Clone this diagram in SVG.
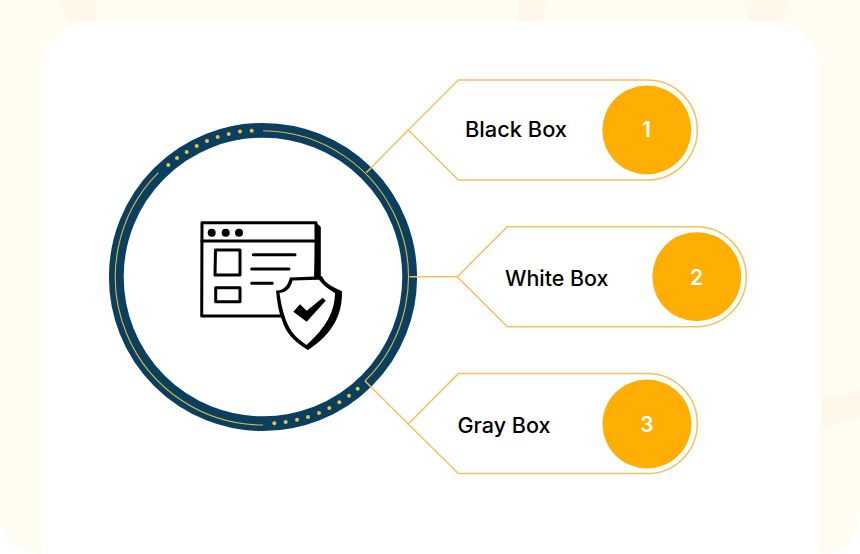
<svg xmlns="http://www.w3.org/2000/svg" width="860" height="554" viewBox="0 0 860 554">
<style>
.bd{fill:#fff;stroke:#f6c15c;stroke-width:1.5}
.num{fill:#ffae04}
.t{font-family:"Inter","Liberation Sans",sans-serif;font-weight:500;font-size:21px;fill:#000}
.n{font-family:"Inter","Liberation Sans",sans-serif;font-weight:600;font-size:21px;fill:#fff;text-anchor:middle}
.cn{fill:none;stroke:#f6c15c;stroke-width:1.5}
.arc{fill:none;stroke:#e2b93f;stroke-width:1.1}
.dots circle{fill:#f3bf3f}
.k{fill:none;stroke:#000;stroke-width:3;stroke-linecap:round;stroke-linejoin:round}
</style>
<rect width="860" height="554" fill="#fff"/>
<rect id="bg" x="0" y="-40" width="860" height="594" rx="38" fill="#fffdf2"/>
<g fill="#fff8ea">
<path d="M60 0H96V21H68Z"/>
<path d="M518 0H546L543 21H518Z"/>
<path d="M752 0H790L780 21H746Z"/>
<path d="M822 400L860 390V417L822 428Z"/>
</g>
<rect id="panel" x="41" y="21" width="779" height="600" rx="50" fill="#fff"/>
<g id="hub">
<circle cx="263" cy="277" r="146.700" fill="#fff" stroke="#0b3f60" stroke-width="14.800"/>
<path class="arc" d="M263 130.700A146.300 146.300 0 0 1 365 381"/>
<path class="arc" d="M263 425A148 148 0 0 1 158.300 172.700"/>
<g class="dots">
<circle cx="168.300" cy="165" r="2"/><circle cx="177" cy="158" r="2"/><circle cx="186.700" cy="152" r="2"/><circle cx="196.700" cy="146" r="2"/><circle cx="207" cy="141" r="2"/><circle cx="217.700" cy="137" r="2"/><circle cx="228.700" cy="134" r="2"/><circle cx="240" cy="131.500" r="2"/><circle cx="251.700" cy="130.700" r="2"/>
<circle cx="274.300" cy="423.300" r="2"/><circle cx="285.700" cy="422" r="2"/><circle cx="297" cy="419.700" r="2"/><circle cx="308" cy="417" r="2"/><circle cx="319" cy="413" r="2"/><circle cx="329.300" cy="408" r="2"/><circle cx="339.300" cy="402.300" r="2"/><circle cx="349" cy="395.700" r="2"/><circle cx="357.700" cy="388.700" r="2"/>
</g>
<g id="icon">
<path d="M316 222.500L320.800 227V282H314Z" fill="#000"/>
<path class="k" d="M202 222.700H316V316H201.700Z"/>
<path class="k" d="M202 241H316"/>
<circle cx="211.700" cy="232.700" r="4"/><circle cx="225.700" cy="232.700" r="4"/><circle cx="239" cy="232.700" r="4"/>
<path class="k" d="M215.500 250H240V275H215Z"/>
<path class="k" d="M215.700 287.700H240V301.700H215.700Z"/>
<path class="k" d="M253.300 254.700H295M251.700 269H289M251.700 283.300H272.300"/>
<path d="M276 290.500C285 291 288 284 290 277.500L322 276.200C325 282 328 285 342 291.200C342.500 313 334 333 308 350C293 341 286 333 282 320C278 310 277 300 276 290.500Z" fill="#000"/>
<path d="M279.500 293C287 292.500 291 287 292.500 280.500L319 279.700C323 285 328 289 335 293C335 311 326 328 306.500 345C295 337 290 331 285.500 319C282 309 280.500 300 279.500 293Z" fill="#fff"/>
<path d="M293.300 311.700L300 304.300L306.700 310.700L322.700 297.700L325.700 300.700L306.700 321.700Z" fill="#000"/>
</g>
</g>
<g id="connectors">
<path class="cn" d="M366.500 172.500L408.300 130"/>
<path class="cn" d="M409.500 276.700H457.300"/>
<path class="cn" d="M365 381L408.300 424"/>
</g>
<g id="node1">
<path class="bd" d="M408.300 130L458.300 80H647.300A50 50 0 0 1 647.300 180H458.300Z"/>
<circle class="num" cx="646.800" cy="130" r="44.500"/>
<text class="t" x="465" y="136.700" textLength="102" lengthAdjust="spacingAndGlyphs">Black Box</text>
<text class="n" x="646.500" y="137">1</text>
</g>
<g id="node2">
<path class="bd" d="M457.300 276.700L507.300 226.700H696.300A50 50 0 0 1 696.300 326.700H507.300Z"/>
<circle class="num" cx="696.800" cy="276.700" r="44.500"/>
<text class="t" x="505" y="285.500" textLength="103.500" lengthAdjust="spacingAndGlyphs">White Box</text>
<text class="n" x="696.500" y="284.500">2</text>
</g>
<g id="node3">
<path class="bd" d="M408.300 424L458.300 373.600H647.300A50 50 0 0 1 647.300 473.600H458.300Z"/>
<circle class="num" cx="647" cy="424" r="44.500"/>
<text class="t" x="457.500" y="432.700" textLength="93" lengthAdjust="spacingAndGlyphs">Gray Box</text>
<text class="n" x="647" y="431.700">3</text>
</g>
</svg>
